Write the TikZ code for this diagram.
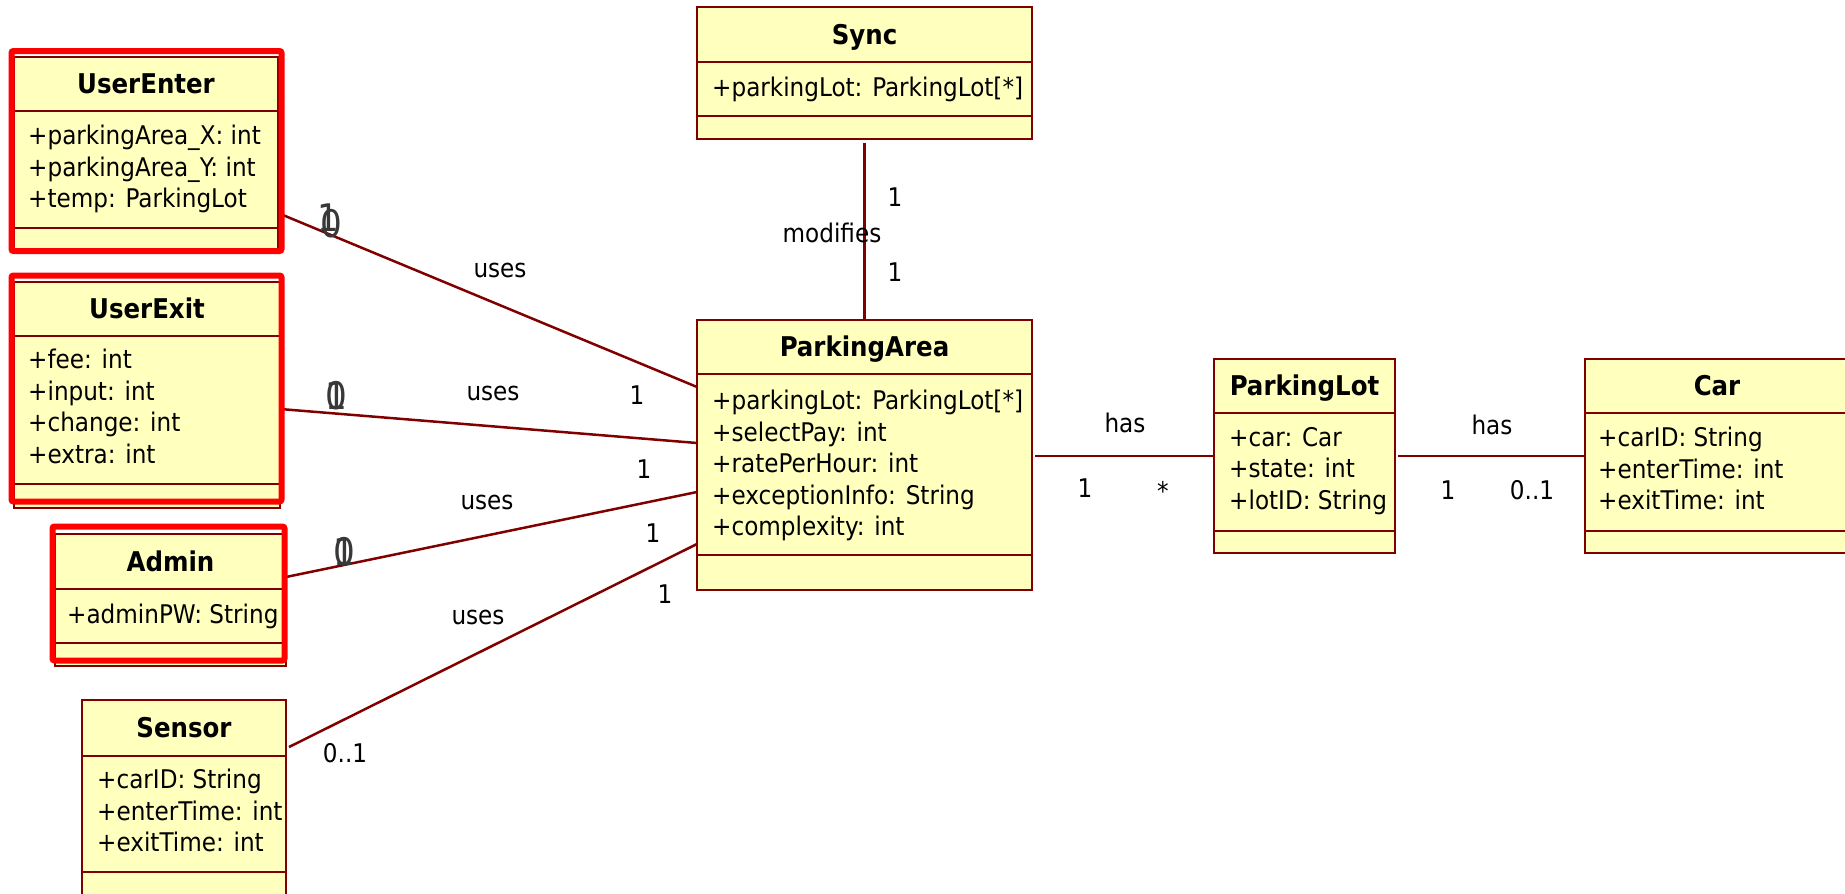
\documentclass[tikz,border=0pt]{standalone}
\usepackage{fontspec}
\setmainfont{DejaVu Sans Condensed}
\usetikzlibrary{positioning}
\definecolor{umlfill}{RGB}{255,255,190}
\definecolor{umlline}{RGB}{128,0,0}

\begin{document}
\begin{tikzpicture}[x=1pt, y=-1pt,
  every node/.style={font=\fontsize{25.7}{31.5}\selectfont, inner sep=0pt},
  classbox/.style={draw=umlline, fill=umlfill, line width=2.5pt, rectangle, outer sep=0pt, anchor=north west},
  classsep/.style={draw=umlline, line width=2.5pt},
  classtitle/.style={font=\fontsize{27.2}{31.5}\selectfont\bfseries, text height=19.8pt, text depth=0pt},
  attrs/.style={align=left, anchor=north west},
  assoc/.style={draw=umlline, line width=2.5pt},
  redframe/.style={draw=red, line width=6pt, rounded corners=2pt},
  overmult/.style={font=\fontsize{38}{38}\selectfont, text=black!78}]
\useasboundingbox (0,0) rectangle (1845,894);
\clip (0,0) rectangle (1845,894);

% classes
\node[classbox, minimum width=264pt, minimum height=193pt] (userenter) at (14,57) {};
\draw[classsep] ([yshift=-54pt]userenter.north west) -- ([yshift=-54pt]userenter.north east);
\draw[classsep] ([yshift=-171pt]userenter.north west) -- ([yshift=-171pt]userenter.north east);
\node[classtitle] (userenter-name) at ([yshift=-27pt]userenter.north) {UserEnter};
\node[attrs] (userenter-attr) at ([xshift=14pt, yshift=-68pt]userenter.north west) {+parkingArea\_X: int\\+parkingArea\_Y: int\\+temp: ParkingLot};

\node[classbox, minimum width=266pt, minimum height=226pt] (userexit) at (14,282) {};
\draw[classsep] ([yshift=-54pt]userexit.north west) -- ([yshift=-54pt]userexit.north east);
\draw[classsep] ([yshift=-202pt]userexit.north west) -- ([yshift=-202pt]userexit.north east);
\node[classtitle] (userexit-name) at ([yshift=-27pt]userexit.north) {UserExit};
\node[attrs] (userexit-attr) at ([xshift=14pt, yshift=-67pt]userexit.north west) {+fee: int\\+input: int\\+change: int\\+extra: int};

\node[classbox, minimum width=231pt, minimum height=132pt] (admin) at (55,534) {};
\draw[classsep] ([yshift=-55pt]admin.north west) -- ([yshift=-55pt]admin.north east);
\draw[classsep] ([yshift=-109pt]admin.north west) -- ([yshift=-109pt]admin.north east);
\node[classtitle] (admin-name) at ([yshift=-27.5pt]admin.north) {Admin};
\node[attrs] (admin-attr) at ([xshift=12pt, yshift=-70pt]admin.north west) {+adminPW: String};

\node[classbox, minimum width=204pt, minimum height=230pt] (sensor) at (82,700) {};
\draw[classsep] ([yshift=-56pt]sensor.north west) -- ([yshift=-56pt]sensor.north east);
\draw[classsep] ([yshift=-172pt]sensor.north west) -- ([yshift=-172pt]sensor.north east);
\node[classtitle] (sensor-name) at ([yshift=-28pt]sensor.north) {Sensor};
\node[attrs] (sensor-attr) at ([xshift=15pt, yshift=-69pt]sensor.north west) {+carID: String\\+enterTime: int\\+exitTime: int};

\node[classbox, minimum width=335pt, minimum height=132pt] (sync) at (697,7) {};
\draw[classsep] ([yshift=-55pt]sync.north west) -- ([yshift=-55pt]sync.north east);
\draw[classsep] ([yshift=-109pt]sync.north west) -- ([yshift=-109pt]sync.north east);
\node[classtitle] (sync-name) at ([yshift=-27.5pt]sync.north) {Sync};
\node[attrs] (sync-attr) at ([xshift=15pt, yshift=-70pt]sync.north west) {+parkingLot: ParkingLot[*]};

\node[classbox, minimum width=335pt, minimum height=270pt] (parkingarea) at (697,320) {};
\draw[classsep] ([yshift=-54pt]parkingarea.north west) -- ([yshift=-54pt]parkingarea.north east);
\draw[classsep] ([yshift=-235pt]parkingarea.north west) -- ([yshift=-235pt]parkingarea.north east);
\node[classtitle] (parkingarea-name) at ([yshift=-27pt]parkingarea.north) {ParkingArea};
\node[attrs] (parkingarea-attr) at ([xshift=15pt, yshift=-70pt]parkingarea.north west) {+parkingLot: ParkingLot[*]\\+selectPay: int\\+ratePerHour: int\\+exceptionInfo: String\\+complexity: int};

\node[classbox, minimum width=181pt, minimum height=194pt] (parkinglot) at (1214,359) {};
\draw[classsep] ([yshift=-54pt]parkinglot.north west) -- ([yshift=-54pt]parkinglot.north east);
\draw[classsep] ([yshift=-172pt]parkinglot.north west) -- ([yshift=-172pt]parkinglot.north east);
\node[classtitle] (parkinglot-name) at ([yshift=-27pt]parkinglot.north) {ParkingLot};
\node[attrs] (parkinglot-attr) at ([xshift=15pt, yshift=-68pt]parkinglot.north west) {+car: Car\\+state: int\\+lotID: String};

\node[classbox, minimum width=264pt, minimum height=194pt] (car) at (1585,359) {};
\draw[classsep] ([yshift=-54pt]car.north west) -- ([yshift=-54pt]car.north east);
\draw[classsep] ([yshift=-172pt]car.north west) -- ([yshift=-172pt]car.north east);
\node[classtitle] (car-name) at ([yshift=-27pt]car.north) {Car};
\node[attrs] (car-attr) at ([xshift=13pt, yshift=-68pt]car.north west) {+carID: String\\+enterTime: int\\+exitTime: int};

% associations
\draw[assoc] ([yshift=-59.5pt]userenter.east) -- ([yshift=68pt]parkingarea.west);
\draw[assoc] ([yshift=-14pt]userexit.east) -- ([yshift=12pt]parkingarea.west);
\draw[assoc] ([yshift=23pt]admin.east) -- ([yshift=-37pt]parkingarea.west);
\draw[assoc] ([xshift=3pt, yshift=68pt]sensor.east) -- ([yshift=-89pt]parkingarea.west);
\draw[assoc] ([yshift=-4pt]sync.south) -- (parkingarea.north);
\draw[assoc] ([xshift=3pt]parkingarea.east |- parkinglot.west) -- (parkinglot.west);
\draw[assoc] ([xshift=3pt]parkinglot.east) -- (car.west);

% highlighted classes
\draw[redframe] (11.5,51) rectangle (281.5,251);
\draw[redframe] (11.5,275.5) rectangle (281.5,501.5);
\draw[redframe] (52.5,526.5) rectangle (284.5,660.5);

% labels
\node (uses-enter) at (500,270) {uses};
\node (uses-exit) at (493,393) {uses};
\node (uses-admin) at (487,502) {uses};
\node (uses-sensor) at (478,617) {uses};
\node (m-enter) at (637,395) {1};
\node (m-exit) at (644,469) {1};
\node (m-admin) at (653,533) {1};
\node (m-sensor) at (665,594) {1};
\node[overmult] (o-enter0) at (331,224) {0};
\node[overmult] (o-enter1) at (328,218) {1};
\node[overmult] (o-exit0) at (336,396) {0};
\node[overmult] (o-exit1) at (336,396) {1};
\node[overmult] (o-admin0) at (344,552) {0};
\node[overmult] (o-admin1) at (344,552) {1};
\node (s-mult) at (345,753) {0..1};
\node (sync-m1) at (895,197) {1};
\node (modifies) at (832,233) {modifies};
\node (sync-m2) at (895,272) {1};
\node (has-lot) at (1125,423) {has};
\node (lot-m1) at (1085,488) {1};
\node (lot-m2) at (1163,491) {*};
\node (has-car) at (1492,425) {has};
\node (car-m1) at (1448,490) {1};
\node (car-m2) at (1532,490) {0..1};
\end{tikzpicture}
\end{document}
